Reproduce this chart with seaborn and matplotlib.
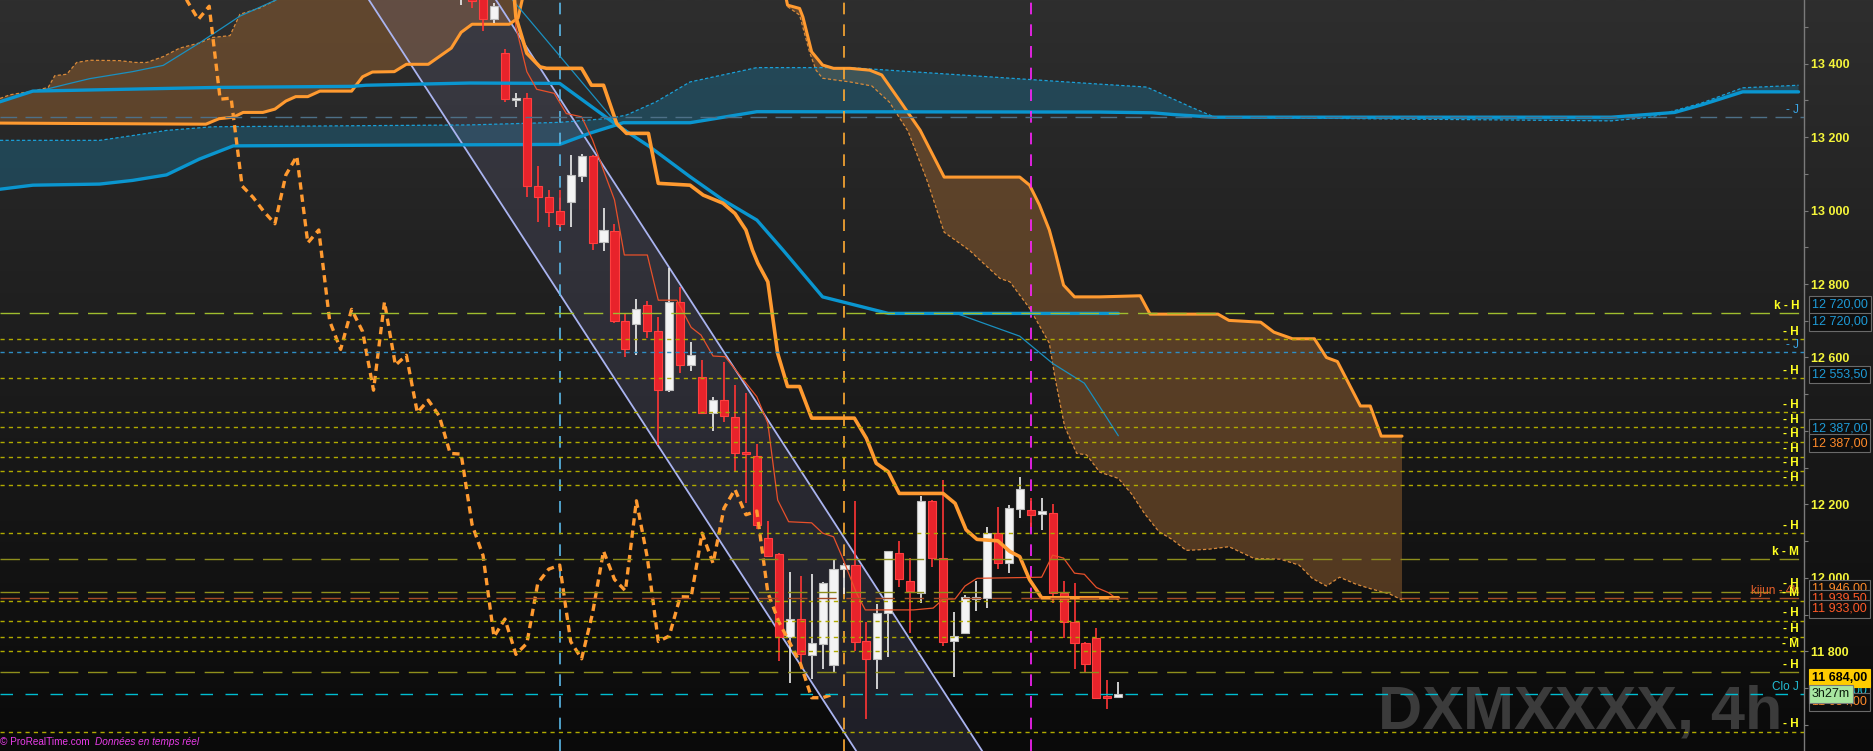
import numpy as np
import seaborn as sns
import matplotlib.pyplot as plt
import matplotlib.transforms as mtransforms
from matplotlib.ticker import MultipleLocator

sns.set_theme(style='dark')
plt.rcParams['font.family'] = ['Liberation Sans', 'DejaVu Sans']

# 4h candles, oldest first; bars_back = 0 is the current bar
bars_back = list(range(60, -1, -1))
opens = [13590, 13610, 13585, 13520, 13430, 13300, 13305, 13067, 13037, 12999,
         13024, 13095, 13148, 12915, 12944, 12699, 12692, 12742, 12671, 12511,
         12751, 12579, 12546, 12450, 12484, 12437, 12340, 12332, 12108, 12065,
         11840, 11888, 11789, 11821, 11764, 12024, 12035, 11828, 11780, 11904,
         12067, 11993, 11958, 12210, 12055, 11829, 11851, 11944, 11945, 12122,
         12042, 12189, 12184, 12175, 12176, 11960, 11879, 11822, 11836, 11679,
         11677]
highs = [13660, 13630, 13600, 13565, 13439, 13320, 13319, 13121, 13056, 13056,
         13151, 13154, 13150, 13006, 12963, 12722, 12759, 12754, 12709, 12843,
         12791, 12642, 12593, 12493, 12588, 12525, 12503, 12365, 12155, 12068,
         12016, 12005, 12011, 11990, 12052, 12040, 12210, 11881, 11929, 12073,
         12101, 12054, 12223, 12212, 12267, 11907, 11953, 11992, 12138, 12192,
         12199, 12274, 12218, 12217, 12201, 11992, 11986, 11826, 11863, 11722,
         11716]
lows = [13559, 13550, 13489, 13511, 13296, 13281, 13036, 12970, 12956, 12956,
        12956, 13078, 12892, 12890, 12695, 12602, 12607, 12652, 12362, 12507,
        12557, 12564, 12448, 12401, 12425, 12289, 12203, 12133, 12058, 11775,
        11715, 11768, 11726, 11753, 11742, 11955, 11800, 11616, 11697, 11784,
        11976, 11851, 11933, 12031, 11816, 11731, 11848, 11910, 11919, 12024,
        12014, 12164, 12138, 12131, 11933, 11836, 11753, 11745, 11670, 11644,
        11673]
closes = [13640, 13570, 13520, 13556, 13303, 13306, 13067, 13036, 12997, 12964,
          13097, 13148, 12912, 12947, 12699, 12622, 12731, 12671, 12511, 12751,
          12579, 12606, 12450, 12484, 12441, 12339, 12337, 12145, 12061, 11840,
          11888, 11792, 11822, 11986, 12024, 12035, 11827, 11780, 11904, 12073,
          11996, 11965, 12210, 12055, 11827, 11842, 11949, 11948, 12122, 12040,
          12190, 12241, 12172, 12182, 11960, 11881, 11824, 11765, 11674, 11674,
          11684]
chikou_shift = 26

# 4h ichimoku (x = bars relative to the current bar)
kijun4h_x = [-55.2, -55.0, -54.0, -52.8, -52.2, -49.0, -48.1, -47.0, -45.8, -44.9,
             -42.9, -42.0, -39.1, -37.9, -36.1, -35.0, -34.0, -33.4, -32.9, -32.0,
             -31.1, -30.2, -29.1, -28.0, -24.1, -23.0, -22.1, -21.0, -20.0, -16.0,
             -14.9, -13.9, -12.9, -11.0, -9.9, -9.0, -8.1, -7.0, 0.0]
kijun4h_y = [13600, 13527, 13428, 13391, 13387, 13387, 13341, 13341, 13237, 13210,
             13210, 13074, 13069, 13042, 13020, 12992, 12947, 12892, 12856, 12806,
             12611, 12521, 12521, 12435, 12435, 12380, 12312, 12289, 12230, 12230,
             12203, 12131, 12105, 12101, 12072, 12058, 11995, 11946, 11946]
tenkan4h_x = [-55.2, -55.0, -54.0, -53.1, -51.5, -50.4, -49.0, -48.0, -46.9, -46.0,
              -45.1, -43.0, -42.0, -40.3, -39.0, -38.1, -37.0, -35.9, -33.0, -32.0,
              -31.1, -30.1, -28.0, -27.0, -26.0, -25.1, -23.9, -23.1, -18.7, -16.9,
              -16.0, -14.9, -14.0, -12.9, -7.0, -6.0, -5.0, -4.0, -3.1, -2.0,
              -0.9, 0.0]
tenkan4h_y = [13590, 13500, 13378, 13330, 13319, 13264, 13255, 13192, 13101, 13029,
              12879, 12879, 12756, 12756, 12682, 12661, 12604, 12602, 12493, 12421,
              12212, 12153, 12150, 12122, 12112, 12049, 11958, 11913, 11913, 11918,
              11942, 11943, 11978, 11999, 12002, 12062, 12054, 12013, 12010, 11974,
              11960, 11940]
# left (old) 4h cloud
cloud_l_low_x = [-102.1, -83.3, -82.1, -80.8, -79.9, -78.1, -77.0, -76.0, -75.1, -74.0,
                 -72.9, -70.0, -69.0, -68.1, -66.1, -65.0, -63.0, -60.9, -60.0, -59.0,
                 -55.6, -54.8, -54.3]
cloud_l_low_y = [13238, 13235, 13250, 13254, 13267, 13267, 13276, 13298, 13310, 13310,
                 13325, 13325, 13364, 13377, 13378, 13398, 13398, 13442, 13485, 13507,
                 13507, 13524, 13590]
cloud_l_up_x = [-102.1, -101.2, -99.1, -97.7, -97.1, -96.0, -95.1, -93.9, -91.2, -89.7,
                -88.7, -87.2, -85.7, -83.9, -82.7, -81.1, -80.2, -78.4, -76.9, -75.5]
cloud_l_up_y = [13305, 13315, 13325, 13335, 13367, 13371, 13403, 13409, 13408, 13403,
                13403, 13419, 13442, 13456, 13471, 13476, 13534, 13551, 13573, 13610]
# right (projected) 4h cloud
cloud_r_up_x = [-30.5, -30.3, -30.2, -29.1, -28.8, -28.0, -27.0, -26.0, -24.5, -22.7,
                -21.6, -20.0, -18.1, -15.9, -9.0, -8.1, -7.2, -6.3, -5.8, -5.0,
                -4.0, -1.7, 2.0, 2.9, 9.1, 10.1, 13.0, 14.2, 15.9, 17.9,
                19.0, 20.0, 22.1, 23.0, 24.0, 25.9]
cloud_r_up_y = [13590, 13573, 13559, 13550, 13527, 13432, 13396, 13387, 13387, 13382,
                13369, 13301, 13219, 13091, 13091, 13069, 13015, 12947, 12892, 12797,
                12765, 12765, 12768, 12718, 12718, 12701, 12696, 12669, 12651, 12651,
                12600, 12589, 12468, 12468, 12386, 12386]
cloud_r_low_x = [-30.2, -29.1, -28.2, -27.6, -27.0, -24.5, -22.5, -20.9, -19.2, -17.5,
                 -15.9, -13.6, -12.3, -10.8, -9.9, -8.1, -6.3, -5.8, -5.2, -4.9,
                 -3.8, -2.9, -1.7, 0.0, 1.2, 2.4, 3.7, 4.9, 6.2, 8.2,
                 10.1, 12.4, 14.8, 16.5, 17.7, 19.0, 20.2, 21.7, 23.1, 24.8,
                 25.9]
cloud_r_low_y = [13555, 13532, 13432, 13382, 13360, 13350, 13339, 13295, 13216, 13085,
                 12941, 12892, 12856, 12815, 12806, 12734, 12639, 12548, 12457, 12412,
                 12339, 12335, 12288, 12271, 12229, 12175, 12126, 12105, 12075, 12078,
                 12085, 12053, 12051, 12035, 11999, 11978, 12002, 11983, 11970, 11956,
                 11940]

# daily ichimoku
kijun_d_x = [-102.1, -99.1, -82.4, -69.9, -68.7, -59.2, -51.0, -45.8, -42.8, -39.1,
             -36.1, -33.0, -30.6, -27.0, -21.0, 0.0]
kijun_d_y = [13296, 13325, 13335, 13338, 13341, 13347, 13346, 13233, 13174, 13092,
             13029, 12974, 12892, 12765, 12720, 12720]
ssb_d_x = [-102.1, -99.1, -93.0, -90.0, -86.9, -83.9, -80.8, -51.0, -48.3, -45.2,
           -39.1, -33.0, -1.7, 3.1, 5.1, 8.8, 45.0, 50.8, 53.3, 57.0, 62.1]
ssb_d_y = [13058, 13069, 13072, 13082, 13097, 13140, 13176, 13180, 13210, 13239,
           13239, 13269, 13268, 13266, 13261, 13254, 13254, 13267, 13288, 13323, 13323]
ssa_d_x = [-102.1, -93.0, -90.0, -86.9, -82.7, -59.2, -51.0, -46.4, -44.9, -42.2,
           -39.1, -33.0, -24.5, -1.7, 2.6, 6.6, 8.8, 25.7, 45.0, 48.6,
           53.2, 57.0, 62.1]
ssa_d_y = [13191, 13191, 13204, 13218, 13228, 13233, 13240, 13251, 13260, 13296,
           13350, 13389, 13389, 13344, 13336, 13282, 13254, 13249, 13244, 13254,
           13292, 13334, 13341]
tenkan_d1_x = [-99.1, -97.9, -96.0, -93.9, -90.0, -87.2, -83.9, -80.2, -76.9, -76.3]
tenkan_d1_y = [13325, 13330, 13344, 13359, 13378, 13395, 13456, 13529, 13573, 13590]
tenkan_d2_x = [-55.5, -55.3, -45.8, -42.8, -39.1, -36.1, -33.0, -30.6, -27.0, -21.0,
               -14.8, -9.0, -6.0, -3.1, -1.7, 0.0]
tenkan_d2_y = [13590, 13573, 13237, 13174, 13092, 13029, 12974, 12892, 12765, 12720,
               12720, 12658, 12584, 12530, 12466, 12387]

# falling channel, two anchors per side
chan_up_x = [-57.4, -11.8]
chan_up_y = [13600, 11500]
chan_low_x = [-69.0, -23.3]
chan_low_y = [13600, 11500]

# vertical markers
vline_x = [-51, -25, -8]

# horizontal levels
level_prices = [13254, 12720, 12650, 12614, 12543, 12451, 12410, 12371, 12330, 12292,
                12252, 12122, 12051, 11963, 11945, 11938, 11884, 11840, 11801, 11743,
                11684, 11582]
level_tags = ['- J', 'k - H', '- H', '- J', '- H', '- H', '- H', '- H', '- H', '- H',
              '- H', '- H', 'k - M', '- H', 'kijun - 4h', '- M', '- H', '- H', '- M', '- H',
              'Clo J', '- H']
level_kinds = ['Jlong', 'kH', 'H', 'J', 'H', 'H', 'H', 'H', 'H', 'H',
               'H', 'H', 'kM', 'kM', 'kij', 'H', 'H', 'H', 'H', 'kM',
               'clo', 'H']

# price tags on the right axis
box_values = [12720, 12720, 12553.5, 12387, 12387, 11946, 11939.5, 11933, 11684, 11684]
box_kinds = ['blue', 'blue', 'blue', 'blue', 'orange', 'orange', 'red', 'red', 'cyan', 'orange']
last_price = 11684
timer_text = '3h27m'
tick_values = [11800, 12000, 12200, 12400, 12600, 12800, 13000, 13200, 13400]


def fmt(v, dec=2):
    s = f"{v:,.{dec}f}"
    return s.replace(',', ' ').replace('.', ',')


fig = plt.figure(figsize=(18.73, 7.51), dpi=100)

# background gradient over the whole picture
bg = fig.add_axes([0, 0, 1, 1])
shade = np.linspace(46, 10, 300) / 255.0
img = np.repeat(shade[:, None, None], 3, axis=2)
bg.imshow(img, aspect='auto', extent=(0, 1, 0, 1))
bg.set_axis_off()
bg.set_zorder(0)
bg.text(1378 / 1873, 22 / 751, 'DXMXXXX, 4h', transform=bg.transAxes, fontsize=44,
        fontweight='bold', color='#3b3b3b', va='baseline', ha='left')

ax = fig.add_axes([0, 0, 1804 / 1873, 1])
ax.set_zorder(1)
ax.patch.set_visible(False)

# clouds
ax.fill(np.r_[cloud_l_up_x, cloud_l_low_x[::-1]], np.r_[cloud_l_up_y, cloud_l_low_y[::-1]],
        color='#94602f', alpha=0.5, lw=0, zorder=1)
ax.fill(np.r_[cloud_r_up_x, cloud_r_low_x[::-1]], np.r_[cloud_r_up_y, cloud_r_low_y[::-1]],
        color='#94602f', alpha=0.5, lw=0, zorder=1)
ax.fill(np.r_[ssa_d_x, ssb_d_x[::-1]], np.r_[ssa_d_y, ssb_d_y[::-1]],
        color='#1e6482', alpha=0.5, lw=0, zorder=1)

# channel
ax.fill([chan_up_x[0], chan_up_x[1], chan_low_x[1], chan_low_x[0]],
        [chan_up_y[0], chan_up_y[1], chan_low_y[1], chan_low_y[0]],
        color='#6a6a90', alpha=0.22, lw=0, zorder=1.5)
for cx, cy in [(chan_up_x, chan_up_y), (chan_low_x, chan_low_y)]:
    sns.lineplot(x=cx, y=cy, ax=ax, sort=False, estimator=None, color='#aab4f0', lw=1.3, zorder=2)

# vertical markers
for vx, vc in zip(vline_x, ['#5ab8e8', '#ffaa33', '#ff22ff']):
    ax.axvline(vx, color=vc, ls=(0, (7, 6)), lw=1.2, zorder=3)

# cloud edges
dash_thin = (0, (2.6, 1.8))
sns.lineplot(x=cloud_l_up_x, y=cloud_l_up_y, ax=ax, sort=False, estimator=None,
             color='#d98a3a', lw=0.9, linestyle=dash_thin, zorder=2)
sns.lineplot(x=cloud_r_low_x, y=cloud_r_low_y, ax=ax, sort=False, estimator=None,
             color='#d98a3a', lw=0.9, linestyle=dash_thin, zorder=2)
sns.lineplot(x=ssa_d_x, y=ssa_d_y, ax=ax, sort=False, estimator=None,
             color='#1aa0d8', lw=0.9, linestyle=dash_thin, zorder=2)
sns.lineplot(x=cloud_l_low_x, y=cloud_l_low_y, ax=ax, sort=False, estimator=None,
             color='#ff9a30', lw=2.2, zorder=2.2)
sns.lineplot(x=cloud_r_up_x, y=cloud_r_up_y, ax=ax, sort=False, estimator=None,
             color='#ff9a30', lw=2.2, zorder=2.2)
sns.lineplot(x=ssb_d_x, y=ssb_d_y, ax=ax, sort=False, estimator=None,
             color='#0a96d0', lw=2.4, zorder=2.2)

# candles
xc = -np.array(bars_back, dtype=float)
o = np.array(opens, dtype=float)
h = np.array(highs, dtype=float)
l = np.array(lows, dtype=float)
c = np.array(closes, dtype=float)
up = c > o
wick_col = np.where(up, '#eeeeee', '#ff3535')
body_col = np.where(up, '#f4f4f4', '#e8232b')
edge_col = np.where(up, '#bdbdbd', '#ff4040')
ax.vlines(xc, l, h, colors=wick_col, lw=1.2, zorder=4)
ax.bar(xc, np.maximum(np.abs(c - o), 5), bottom=np.minimum(o, c), width=0.74,
       color=body_col, edgecolor=edge_col, linewidth=0.8, zorder=5)

# indicator lines over candles
sns.lineplot(x=tenkan_d1_x, y=tenkan_d1_y, ax=ax, sort=False, estimator=None,
             color='#1a90c0', lw=0.9, zorder=6)
sns.lineplot(x=tenkan_d2_x, y=tenkan_d2_y, ax=ax, sort=False, estimator=None,
             color='#1a90c0', lw=0.9, zorder=6)
sns.lineplot(x=kijun_d_x, y=kijun_d_y, ax=ax, sort=False, estimator=None,
             color='#0a96d0', lw=2.4, zorder=6)
sns.lineplot(x=tenkan4h_x, y=tenkan4h_y, ax=ax, sort=False, estimator=None,
             color='#e8502a', lw=0.9, zorder=6)
sns.lineplot(x=kijun4h_x, y=kijun4h_y, ax=ax, sort=False, estimator=None,
             color='#ff9a30', lw=2.6, zorder=6)
sns.lineplot(x=xc - chikou_shift, y=c, ax=ax, sort=False, estimator=None,
             color='#ff9a30', lw=2.4, linestyle=(0, (2.2, 1.5)), zorder=6)

# horizontal levels
styles = {
    'H': ('#b0aa00', (0, (3, 3))),
    'J': ('#2d8dc4', (0, (3, 3))),
    'Jlong': ('#4d7088', (0, (12, 6))),
    'kH': ('#9fbd2e', (0, (14, 7))),
    'kM': ('#8f8f1c', (0, (14, 7))),
    'kij': ('#a84c26', (0, (14, 7))),
    'clo': ('#00bcd0', (0, (9, 9))),
}
tag_colors = {'- J': '#3aa6e6', 'kijun - 4h': '#e8602a', 'Clo J': '#22bcd4'}
trans = mtransforms.blended_transform_factory(ax.transAxes, ax.transData)
for p, tag, kind in zip(level_prices, level_tags, level_kinds):
    col, ls = styles[kind]
    ax.axhline(p, color=col, ls=ls, lw=1, zorder=7)
    tcol = tag_colors.get(tag, '#ffff22')
    bold = tag in ('- H', '- M', 'k - H', 'k - M')
    ax.text(1799 / 1804, p + 4, tag, transform=trans, ha='right', va='bottom',
            fontsize=8.5, color=tcol, fontweight='bold' if bold else 'normal', zorder=9)

# axes
ax.set_xlim(-102.1, 62.6)
ax.set_ylim(11529, 13573)
ax.set_xticks([])
ax.set_xlabel('')
ax.set_ylabel('')
ax.yaxis.tick_right()
ax.set_yticks(tick_values)
ax.set_yticklabels([fmt(v, 0) for v in tick_values])
ax.yaxis.set_minor_locator(MultipleLocator(100))
ax.tick_params(axis='y', which='both', direction='out', length=3, width=0.8,
               colors='#7a7a7a', labelcolor='#f5f53a', labelsize=9, pad=2)
for lbl in ax.get_yticklabels():
    lbl.set_fontweight('bold')
for side in ['left', 'top', 'bottom']:
    ax.spines[side].set_visible(False)
ax.spines['right'].set_color('#7a7a7a')
ax.spines['right'].set_linewidth(1)
ax.grid(False)

# price tags
box_text_colors = {'blue': '#1e9ad6', 'orange': '#ff8a2a', 'red': '#ff5a28', 'cyan': '#20c8d8'}
box_offsets = [23, -23, 0, 21, -20, 24, 4, -17, 11, -21]
for i, (v, kind, off) in enumerate(zip(box_values, box_kinds, box_offsets)):
    ax.text(1812 / 1804, v + off, fmt(v), transform=trans, ha='left', va='center',
            fontsize=9, color=box_text_colors[kind], clip_on=False, zorder=10 + i * 0.1,
            bbox=dict(boxstyle='square,pad=0.22', fc='#0e0e0e', ec='#6a6a6a', lw=0.8))
ax.text(1812 / 1804, last_price + 44, fmt(last_price), transform=trans, ha='left',
        va='center', fontsize=9, color='#000000', fontweight='bold', clip_on=False, zorder=12,
        bbox=dict(boxstyle='square,pad=0.22', fc='#ffcc00', ec='#ffcc00', lw=0.8))
ax.text(1812 / 1804, last_price, timer_text, transform=trans, ha='left', va='center',
        fontsize=9, color='#0a1a0a', clip_on=False, zorder=12.5,
        bbox=dict(boxstyle='square,pad=0.22', fc='#a8e6a0', ec='#7a7a7a', lw=0.8))

# footer
fig.text(0.0, 4 / 751, '© ProRealTime.com', fontsize=7.2, color='#e83ce8', ha='left', va='bottom')
fig.text(95 / 1873, 4 / 751, 'Données en temps réel', fontsize=7.2, color='#e83ce8',
         style='italic', ha='left', va='bottom')

plt.savefig('out.png', dpi=100)
plt.close()
print('Finished')
